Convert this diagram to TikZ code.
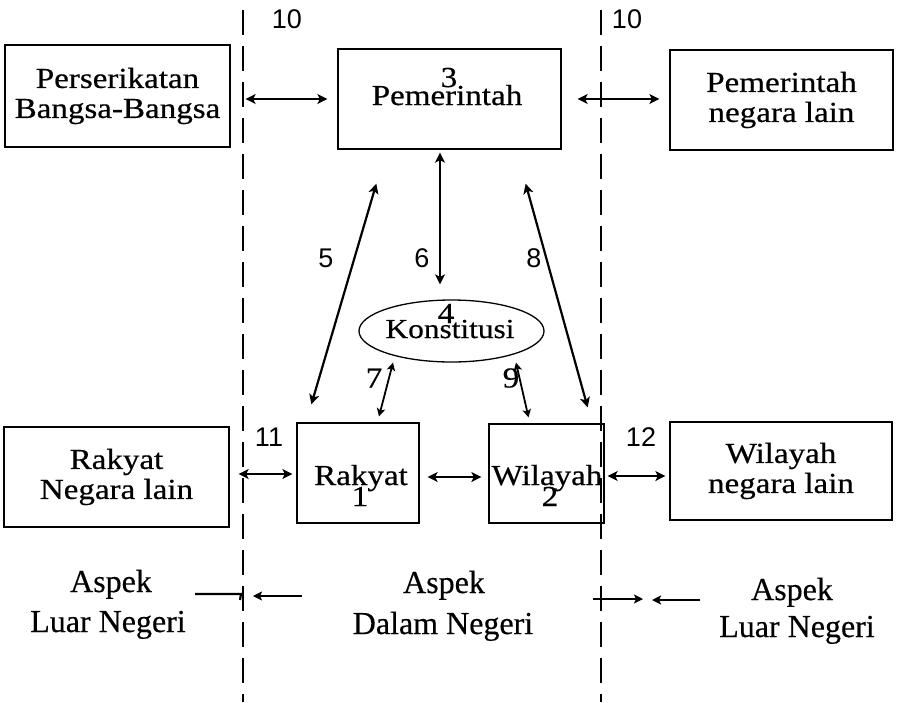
\documentclass[tikz,border=0pt]{standalone}
\usepackage{fontspec}
\setmainfont[FakeStretch=1.14,FakeBold=0.5]{Liberation Serif}
\newfontfamily\plainserif[FakeBold=0.4]{Liberation Serif}
\newfontfamily\numfont{Liberation Sans}
\usetikzlibrary{arrows.meta,shapes.geometric}
\begin{document}
\begin{tikzpicture}[x=1pt,y=-1pt,
  box/.style={draw,line width=1.3pt,inner sep=0pt,align=center,
    font=\fontsize{29}{30}\selectfont},
  txt/.style={inner sep=0pt,anchor=base,font=\fontsize{29}{30}\selectfont},
  num/.style={inner sep=0pt,font=\numfont\fontsize{27}{27}\selectfont},
  bot/.style={inner sep=0pt,anchor=base,font=\plainserif\fontsize{32}{32}\selectfont},
  dar/.style={line width=2.2pt,{Stealth[length=10pt,width=10pt,inset=2.5pt]}-{Stealth[length=10pt,width=10pt,inset=2.5pt]}},
  sdar/.style={line width=1.8pt,{Stealth[length=8pt,width=8.5pt,inset=2pt]}-{Stealth[length=8pt,width=8.5pt,inset=2pt]}},
  sar/.style={line width=2.2pt,-{Stealth[length=9pt,width=9pt,inset=2pt]}},
  border/.style={line width=2.6pt,dash pattern=on 25pt off 11pt}]
\useasboundingbox (0,0) rectangle (900,702);
\fill[white] (0,0) rectangle (900,702);

% dashed border lines
\coordinate (lt) at (243,10);
\coordinate (lb) at (243,702);
\coordinate (rt) at (601,10);
\coordinate (rb) at (601,702);
\draw[border] (lt) -- (lb);
\draw[border] (rt) -- (rb);

% boxes
\node[box,minimum width=225pt,minimum height=102pt] (pbb) at (117.5,96) {Perserikatan\\Bangsa-Bangsa};
\node[box,minimum width=223pt,minimum height=100pt] (pem) at (449.5,99) {};
\node[box,minimum width=223pt,minimum height=100pt] (pnl) at (781.5,100) {Pemerintah\\negara lain};
\node[box,minimum width=225pt,minimum height=100pt] (rnl) at (116.5,477) {Rakyat\\Negara lain};
\node[box,minimum width=122pt,minimum height=100pt] (rak) at (358,473) {};
\node[box,minimum width=115pt,minimum height=99pt] (wil) at (546.5,473.5) {};
\node[box,minimum width=222pt,minimum height=98pt] (wnl) at (781,471) {Wilayah\\negara lain};
\node[draw,ellipse,line width=1.3pt,minimum width=185pt,minimum height=62pt,inner sep=0pt] (kon) at (451.5,331) {};

% texts inside the boxes
\node[txt] (t3) at (449,87) {3};
\node[txt] (tpem) at (447,105) {Pemerintah};
\node[txt] (t4) at (446,323) {4};
\node[txt,font=\fontsize{27.5}{27.5}\selectfont] (tkon) at (450,338) {Konstitusi};
\node[txt] (trak) at (361,485) {Rakyat};
\node[txt] (t1) at (360,506) {1};
\node[txt] (twil) at (547,485) {Wilayah};
\node[txt] (t2) at (550,506) {2};

% number labels
\node[num] (n10a) at (287,19) {10};
\node[num] (n10b) at (627,19) {10};
\node[num] (n5) at (326,258) {5};
\node[num] (n6) at (422,258) {6};
\node[num] (n8) at (534,258) {8};
\node[txt,anchor=center] (n7) at (374,378) {7};
\node[txt,anchor=center] (n9) at (511,378) {9};
\node[num] (n11) at (269,437) {11};
\node[num] (n12) at (641,437) {12};

% connectors
\draw[dar] ([xshift=15pt]pbb.east |- pem.west) -- ([xshift=-10pt]pem.west);
\draw[dar] ([xshift=16pt]pem.east) -- ([xshift=-10pt]pnl.west |- pem.east);
\draw[dar] ([xshift=-9.5pt,yshift=-3pt]pem.south) -- ([xshift=-11.5pt,yshift=15pt]kon.north);
\draw[dar] ([xshift=39pt,yshift=-34pt]pem.south west) -- ([xshift=15pt,yshift=18pt]rak.north west);
\draw[dar] ([xshift=-36pt,yshift=-34pt]pem.south east) -- ([xshift=-17pt,yshift=16pt]wil.north east);
\draw[sdar] ([xshift=-58.5pt]kon.south) -- ([xshift=21pt,yshift=6pt]rak.north);
\draw[sdar] ([xshift=64.5pt]kon.south) -- ([xshift=-18pt,yshift=6pt]wil.north);
\draw[dar] ([xshift=9pt,yshift=3pt]rnl.east) -- ([xshift=-4pt]rak.west |- 0,474);
\draw[dar] ([xshift=8pt,yshift=-4pt]rak.east) -- ([xshift=-7pt]wil.west |- 0,477);
\draw[dar] ([xshift=3pt,yshift=-2.5pt]wil.east) -- ([xshift=-4pt]wnl.west |- 0,476);

% bottom labels
\node[bot] (al1) at (111,592) {Aspek};
\node[bot] (al2) at (108,632) {Luar Negeri};
\node[bot] (ad1) at (444,593) {Aspek};
\node[bot] (ad2) at (443,634) {Dalam Negeri};
\node[bot] (ar1) at (792,600) {Aspek};
\node[bot] (ar2) at (797,637) {Luar Negeri};

% bottom border arrows
\coordinate (b1s) at (195,594);
\coordinate (b1e) at (241,594);
\coordinate (b1h) at (240,600);
\coordinate (b2s) at (302,596);
\coordinate (b2e) at (253,596);
\coordinate (b3s) at (593,599);
\coordinate (b3e) at (643,599);
\coordinate (b4s) at (700,600);
\coordinate (b4e) at (652,600);
\draw[line width=2.2pt] (b1s) -- (b1e) -- (b1h);
\draw[sar] (b2s) -- (b2e);
\draw[sar] (b3s) -- (b3e);
\draw[sar] (b4s) -- (b4e);
\end{tikzpicture}
\end{document}
